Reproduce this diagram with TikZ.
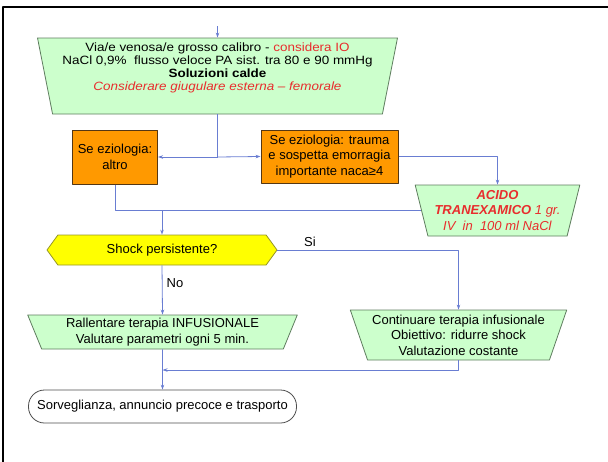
\documentclass[tikz,border=0pt]{standalone}
\usepackage{fontspec}
\setmainfont{Liberation Sans}
\newfontfamily\widefont[Ligatures=TeX,FakeStretch=1.12]{Liberation Sans}
\usetikzlibrary{shapes.geometric,shapes.symbols,arrows.meta}

\definecolor{boxgreen}{RGB}{204,255,204}
\definecolor{edgegreen}{RGB}{95,125,95}
\definecolor{boxorange}{RGB}{255,153,0}
\definecolor{edgeorange}{RGB}{85,55,20}
\definecolor{boxyellow}{RGB}{255,255,0}
\definecolor{edgeyellow}{RGB}{150,150,40}
\definecolor{flowblue}{RGB}{105,125,210}
\definecolor{txtred}{RGB}{232,45,45}

\begin{document}
\begin{tikzpicture}[x=1pt,y=-1pt,line join=round,
  every node/.style={font=\fontsize{13}{15.5}\selectfont,inner sep=0pt,align=center},
  greenbox/.style={trapezium,trapezium stretches=true,draw=edgegreen,fill=boxgreen,line width=0.8pt},
  orangebox/.style={rectangle,draw=edgeorange,fill=boxorange,line width=1pt},
  askbox/.style={signal,signal to=west and east,draw=edgeyellow,fill=boxyellow,line width=0.8pt},
  endbox/.style={rectangle,rounded corners=16pt,draw=black!70,line width=0.8pt},
  flow/.style={draw=flowblue,line width=0.8pt},
  flowarrow/.style={flow,-{Stealth[length=5pt,width=3.5pt]}}]

  % page size and the black frame (open to the right and bottom)
  \useasboundingbox (0,0) rectangle (608,461);
  \draw[line width=2pt] (3,470) -- (3,7) -- (615,7);

  % 1) first step: venous access and fluids
  % (text is set a bit wider here, and sits in the upper part)
  \node[greenbox,trapezium left angle=102,trapezium right angle=102,
        minimum width=361,minimum height=76,
        font=\widefont\fontsize{12}{13}\selectfont] (venosa) at (217.5,76)
    {Via/e venosa/e grosso calibro - {\color{txtred}considera IO}\\
     NaCl 0,9\%~ flusso veloce PA sist. tra 80 e 90 mmHg\\
     \textbf{Soluzioni calde}\\
     {\color{txtred}\itshape Considerare giugulare esterna – femorale}\\[6pt]
     \mbox{}};
  \coordinate (start) at (217.5,26);

  % 2) the two aetiologies
  \node[orangebox,minimum width=85,minimum height=54] (altro) at (115,157)
    {Se eziologia:\\altro};
  \node[orangebox,minimum width=137,minimum height=53] (trauma) at (329.5,156.5)
    {Se eziologia: trauma\\e sospetta emorragia\\importante naca≥4};
  \node[greenbox,trapezium left angle=106,trapezium right angle=106,
        minimum width=165,minimum height=51] (acido) at (497.5,210.5)
    {\color{txtred}\textbf{\textit{ACIDO}}\\
     \color{txtred}\textbf{\textit{TRANEXAMICO}} \textit{1 gr.}\\
     \color{txtred}\textit{IV~ in~ 100 ml NaCl}};

  % 3) decision
  \node[askbox,signal pointer angle=108,minimum width=230,minimum height=30] (shock) at (162,250)
    {Shock persistente?};

  % 4) the two outcomes
  \node[greenbox,trapezium left angle=112,trapezium right angle=112,
        minimum width=270,minimum height=34] (rallenta) at (162.5,332)
    {Rallentare terapia INFUSIONALE\\Valutare parametri ogni 5 min.};
  \node[greenbox,trapezium left angle=112,trapezium right angle=112,
        minimum width=217,minimum height=50] (continua) at (458.5,335)
    {Continuare terapia infusionale\\Obiettivo: ridurre shock\\Valutazione costante};

  % 5) end
  \node[endbox,minimum width=268,minimum height=33] (fine) at (162.5,406.5)
    {Sorveglianza, annuncio precoce e trasporto};

  % connectors
  \coordinate (split) at (venosa.south |- altro.east);
  \coordinate (join) at (shock.north |- acido.west);
  \coordinate (merge) at (462,370);
  \draw[flowarrow] (start) -- (venosa.north);
  \draw[flow] (venosa.south) -- (split);
  \draw[flowarrow] (split) -- (altro.east);
  \draw[flowarrow] (split) -- (trauma.west);
  \draw[flowarrow] (trauma.east) -| (acido.north);
  \draw[flow] (altro.south) |- (acido.west);
  \draw[flowarrow] (join) -- (shock.north);
  \draw[flowarrow] (shock.east) -| (continua.north);
  \draw[flowarrow] (shock.south) -- (rallenta.north);
  \draw[flowarrow] (continua.south) |- (rallenta.south |- merge);
  \draw[flowarrow] (rallenta.south) -- (fine.north);

  % branch labels
  \node (si) at (310,242) {Si};
  \node (no) at (175,283) {No};
\end{tikzpicture}
\end{document}
